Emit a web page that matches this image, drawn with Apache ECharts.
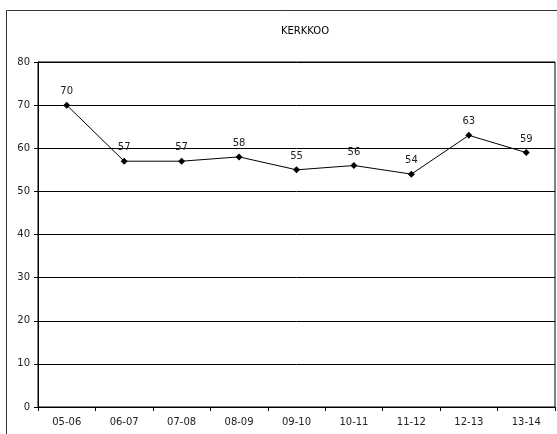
<!DOCTYPE html>
<html><head><meta charset="utf-8">
<script src="https://cdn.jsdelivr.net/npm/echarts@6/dist/echarts.min.js"></script>
<style>html,body{margin:0;padding:0;background:#fff}#c{width:557px;height:434px}</style>
</head><body><div id="c"></div>
<script>
var categories = ['05-06','06-07','07-08','08-09','09-10','10-11','11-12','12-13','13-14'];
var values = [70, 57, 57, 58, 55, 56, 54, 63, 59];
var chartTitle = 'KERKKOO';
var chart = echarts.init(document.getElementById('c'));
var font = 'DejaVu Sans, Verdana, sans-serif';
chart.setOption({
  animation: false,
  backgroundColor: '#fff',
  title: { text: chartTitle, left: 300, top: 21, textAlign: 'center',
    textStyle: { fontFamily: font, fontSize: 10, fontWeight: 'normal', color: '#000' } },
  graphic: [{ type: 'rect', shape: { x: 6.5, y: 10.5, width: 560, height: 440 },
    style: { fill: 'none', stroke: '#333', lineWidth: 1 }, silent: true }],
  grid: { left: 38, right: 2, top: 62, bottom: 27, show: true, borderColor: '#000', borderWidth: 1 },
  xAxis: { type: 'category', data: categories, boundaryGap: true,
    axisLine: { lineStyle: { color: '#000' } },
    axisTick: { show: true, lineStyle: { color: '#000' }, length: 4 },
    axisLabel: { fontFamily: font, fontSize: 10, color: '#222', margin: 10 } },
  yAxis: { type: 'value', min: 0, max: 80, interval: 10,
    axisLine: { show: true, lineStyle: { color: '#000' } },
    axisTick: { show: true, lineStyle: { color: '#000' }, length: 4 },
    splitLine: { lineStyle: { color: '#000', width: 1 } },
    axisLabel: { fontFamily: font, fontSize: 10, color: '#222', margin: 8 } },
  series: [{ type: 'line', data: values, symbol: 'diamond', symbolSize: 7,
    lineStyle: { color: '#000', width: 1 }, itemStyle: { color: '#000' },
    label: { show: true, position: 'top', distance: 5, fontFamily: font, fontSize: 10, color: '#222' } }]
});
</script></body></html>
